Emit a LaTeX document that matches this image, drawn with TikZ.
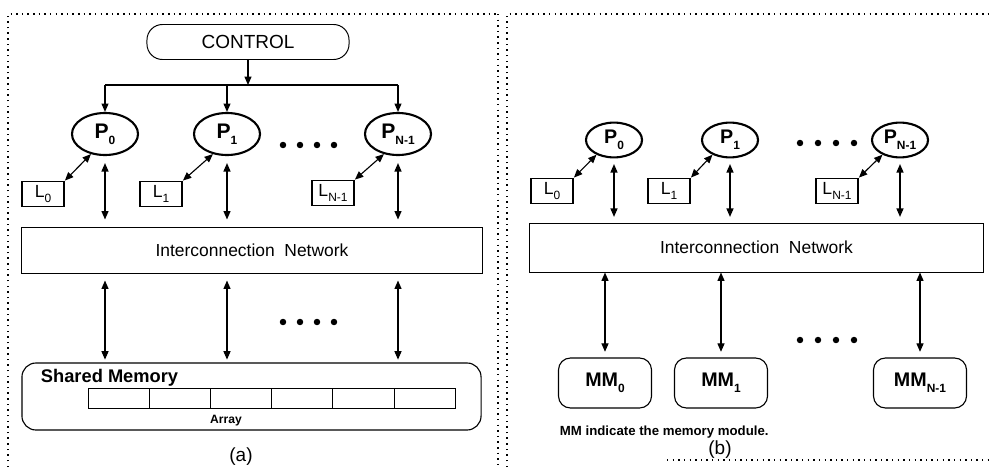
\documentclass[tikz,border=0pt]{standalone}
\usepackage{fontspec}
\setmainfont{Liberation Sans}
\usetikzlibrary{shapes.geometric,arrows.meta}

\newcommand{\lowidx}[1]{\raisebox{-0.55ex}{\fontsize{8.5}{9}\selectfont #1}}

\tikzstyle{control} = [draw, rectangle, rounded corners=11pt, line width=0.7pt,
  inner sep=0pt, minimum width=5.05cm, minimum height=0.875cm,
  font=\fontsize{13.5}{15}\selectfont]
\tikzstyle{proc} = [draw, ellipse, line width=1.5pt, inner sep=0pt,
  minimum width=1.65cm, minimum height=1.05cm, font=\fontsize{15}{17}\selectfont\bfseries]
\tikzstyle{procb} = [proc, minimum width=1.4cm, minimum height=0.87cm,
  font=\fontsize{14}{16}\selectfont\bfseries]
\tikzstyle{local} = [draw, rectangle, line width=1.3pt, inner sep=0pt,
  minimum width=1.05cm, minimum height=0.625cm, font=\fontsize{12.5}{14}\selectfont]
\tikzstyle{network} = [draw, rectangle, line width=0.7pt, inner sep=0pt,
  font=\fontsize{12.4}{14}\selectfont]
\tikzstyle{memory} = [draw, rectangle, rounded corners=10pt, line width=0.8pt,
  inner sep=0pt, minimum width=11.475cm, minimum height=1.675cm]
\tikzstyle{cell} = [draw, rectangle, line width=0.6pt, inner sep=0pt,
  minimum width=1.53cm, minimum height=0.5cm]
\tikzstyle{module} = [draw, rectangle, rounded corners=8.5pt, line width=0.8pt,
  inner sep=0pt, minimum width=2.325cm, minimum height=1.25cm,
  font=\fontsize{14}{16}\selectfont\bfseries]
\tikzstyle{link} = [{Triangle[length=6pt,width=5pt]}-{Triangle[length=6pt,width=5pt]},
  line width=0.8pt]
\tikzstyle{feed} = [-{Triangle[length=6pt,width=5pt]}, line width=0.8pt]
\tikzstyle{frame} = [line width=1pt, dash pattern=on 1pt off 3pt]

\begin{document}
\begin{tikzpicture}[x=0.025cm, y=-0.025cm]
        \useasboundingbox (0,0) rectangle (992,467);

        % dotted panel borders
        \draw[frame] (8,467) -- (8,14) -- (497,14);
        \draw[frame] (498,14) -- (498,467);
        \draw[frame] (507,467) -- (507,14) -- (988,14);
        \draw[frame] (667,460) -- (992,460);

        % (a)
        \node [control] (control) at (248,42)  {CONTROL};
        \node [proc]    (p0)      at (105,134) {P\lowidx{0}};
        \node [proc]    (p1)      at (227,134) {P\lowidx{1}};
        \node [proc]    (pn)      at (398,134) {P\lowidx{N-1}};
        \node [local]   (l0)      at (43,194)  {L\lowidx{0}};
        \node [local]   (l1)      at (161,194) {L\lowidx{1}};
        \node [local]   (ln)      at (333,193) {L\lowidx{N-1}};
        \node [network, minimum width=11.5cm, minimum height=1.15cm]
                        (net)     at (252,250) {Interconnection\ \ Network};
        \node [memory]  (shm)     at (251.5,396.5) {};
        \node [anchor=west, font=\fontsize{13}{15}\selectfont\bfseries]
                        (shmname) at (36,378) {Shared Memory};
        \node [cell]    (c1)      at (118.6,398) {};
        \node [cell]    (c2)      at (179.8,398) {};
        \node [cell]    (c3)      at (241.0,398) {};
        \node [cell]    (c4)      at (302.2,398) {};
        \node [cell]    (c5)      at (363.4,398) {};
        \node [cell]    (c6)      at (424.6,398) {};
        \node [font=\fontsize{8.6}{10}\selectfont\bfseries]
                        (array)   at (226,421) {Array};
        \node [font=\fontsize{13.5}{15}\selectfont] (capa) at (241,457) {(a)};

        \coordinate (split) at (248,85);
        \draw[feed] (control.south) -- (split);
        \draw[line width=0.8pt] (p0 |- split) -- (pn |- split);
        \draw[feed] (p0 |- split) -- (p0.north);
        \draw[feed] (p1 |- split) -- (p1.north);
        \draw[feed] (pn |- split) -- (pn.north);

        \draw[link] (l0.north east) -- (p0.235);
        \draw[link] (l1.north east) -- (p1.235);
        \draw[link] (ln.north east) -- (pn.235);
        \draw[link, shorten <=5pt, shorten >=5pt] (p0.south) -- (p0.south |- net.north);
        \draw[link, shorten <=5pt, shorten >=5pt] (p1.south) -- (p1.south |- net.north);
        \draw[link, shorten <=5pt, shorten >=5pt] (pn.south) -- (pn.south |- net.north);
        \draw[link, shorten <=5pt, shorten >=2pt] (p0 |- net.south) -- (p0 |- shm.north);
        \draw[link, shorten <=5pt, shorten >=2pt] (p1 |- net.south) -- (p1 |- shm.north);
        \draw[link, shorten <=5pt, shorten >=2pt] (pn |- net.south) -- (pn |- shm.north);

        \foreach \x in {283,300,317,334} \fill (\x,145) circle (2.3pt);
        \foreach \x in {283,300,317,334} \fill (\x,322) circle (2.3pt);

        % (b)
        \node [procb]   (p0b)     at (614,140) {P\lowidx{0}};
        \node [procb]   (p1b)     at (730,140) {P\lowidx{1}};
        \node [procb]   (pnb)     at (900,140) {P\lowidx{N-1}};
        \node [local]   (l0b)     at (552,191) {L\lowidx{0}};
        \node [local]   (l1b)     at (669,191) {L\lowidx{1}};
        \node [local]   (lnb)     at (837,191) {L\lowidx{N-1}};
        \node [network, minimum width=11.325cm, minimum height=1.225cm]
                        (netb)    at (756.5,247.5) {Interconnection\ \ Network};
        \node [module]  (mm0)     at (605,383) {MM\lowidx{0}};
        \node [module]  (mm1)     at (721,383) {MM\lowidx{1}};
        \node [module]  (mmn)     at (920,383) {MM\lowidx{N-1}};
        \node [anchor=west, font=\fontsize{9.4}{11}\selectfont\bfseries]
                        (note)    at (555,432) {MM indicate the memory module.};
        \node [font=\fontsize{13.5}{15}\selectfont] (capb) at (720,450) {(b)};

        \draw[link] (l0b.north east) -- (p0b.220);
        \draw[link] (l1b.north east) -- (p1b.220);
        \draw[link] (lnb.north east) -- (pnb.220);
        \draw[link, shorten <=4pt, shorten >=4pt] (p0b.south) -- (p0b.south |- netb.north);
        \draw[link, shorten <=4pt, shorten >=4pt] (p1b.south) -- (p1b.south |- netb.north);
        \draw[link, shorten <=4pt, shorten >=4pt] (pnb.south) -- (pnb.south |- netb.north);
        \draw[link, shorten <=4pt] (mm0.north) -- (mm0.north |- netb.south);
        \draw[link, shorten <=4pt] (mm1.north) -- (mm1.north |- netb.south);
        \draw[link, shorten <=4pt] (mmn.north) -- (mmn.north |- netb.south);

        \foreach \x in {800,818,836,854} \fill (\x,143) circle (2.3pt);
        \foreach \x in {800,818,836,854} \fill (\x,340) circle (2.3pt);
      \end{tikzpicture}
\end{document}
